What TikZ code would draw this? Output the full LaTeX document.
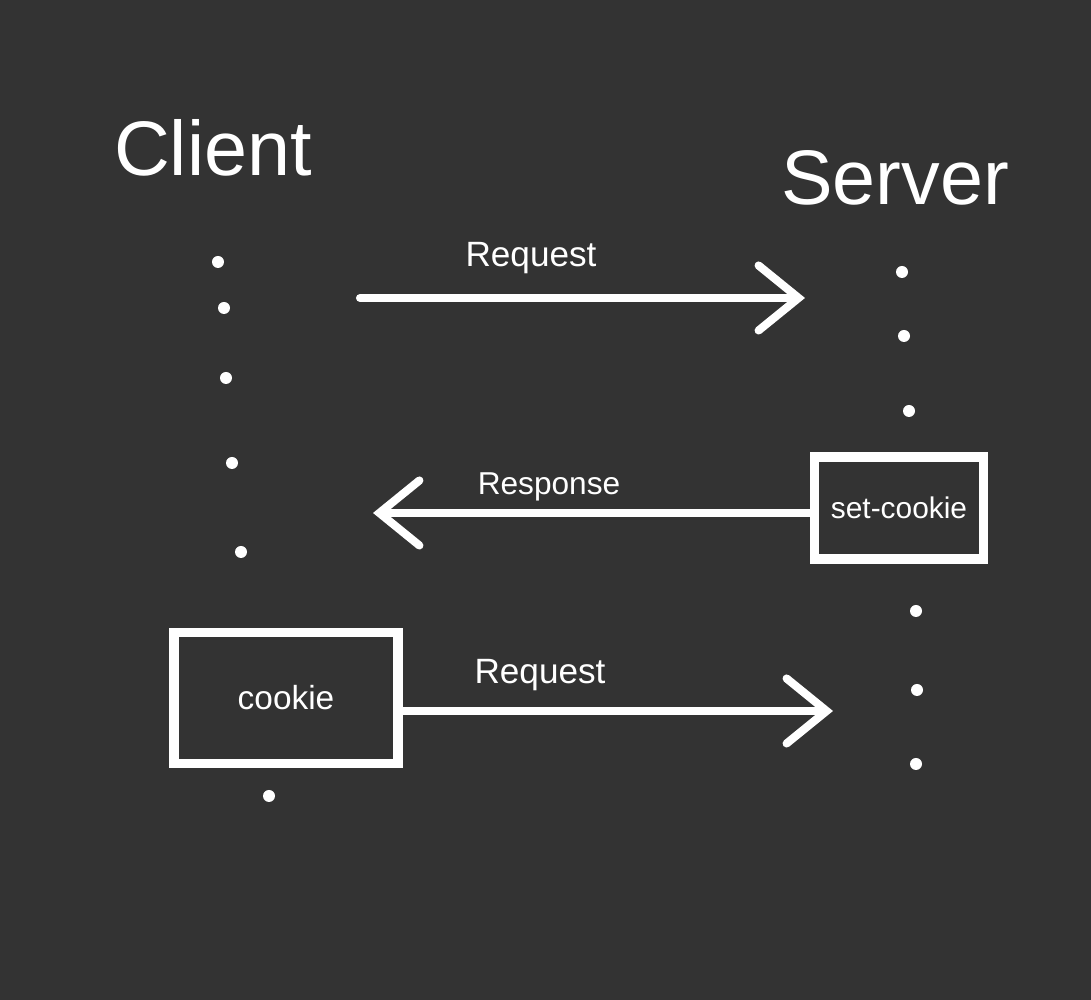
\documentclass[tikz,border=0pt]{standalone}
\usepackage{fontspec}
\setmainfont{Liberation Sans}
\usetikzlibrary{positioning,arrows.meta}
\definecolor{fundal}{HTML}{333333}
\tikzset{
  titlu/.style    = {text=white, inner sep=0pt, font=\fontsize{22}{26}\selectfont},
  eticheta/.style = {text=white, inner sep=2pt, font=\fontsize{10}{12}\selectfont},
  cutie/.style    = {draw=white, line width=2.6pt, text=white, align=center, inner sep=2pt,
                     font=\fontsize{9.5}{11}\selectfont},
  sageata/.style  = {white, line width=2.3pt, line cap=round,
                     -{Straight Barb[length=4mm, width=6.5mm, line cap=round]}},
  punct/.style    = {white}
}
\begin{document}
\begin{tikzpicture}
        \fill[fundal] (0,0) rectangle (10.91,10);
        \useasboundingbox (0,0) rectangle (10.91,10);

        \node[titlu] (client) at (2.13,8.52) {Client};
        \node[titlu] (server) at (8.95,8.22) {Server};

        \node[cutie, minimum width=1.69cm, minimum height=1.02cm,
              font=\fontsize{8.5}{10}\selectfont] (setc) at (8.99,4.92) {set-cookie};
        \node[cutie, minimum width=2.24cm, minimum height=1.31cm] (cookie) at (2.86,3.02) {cookie};

        \coordinate (req1s) at (3.60,7.02);
        \coordinate (req1e) at (8.05,7.02);
        \coordinate (resp) at (3.73,4.87);
        \coordinate (req2) at (8.33,2.89);

        \draw[sageata] (req1s) -- (req1e);
        \draw[sageata] (resp -| setc.west) -- (resp);
        \draw[sageata] (req2 -| cookie.east) -- (req2);

        \node[eticheta] (lreq1) at (5.31,7.42) {Request};
        \node[eticheta, font=\fontsize{9}{11}\selectfont] (lresp) at (5.49,5.13) {Response};
        \node[eticheta] (lreq2) at (5.40,3.25) {Request};

        % liniile de viata, punctate
        \foreach \x/\y in {2.18/7.38, 2.24/6.92, 2.26/6.22, 2.32/5.37, 2.41/4.48, 2.69/2.04,
                           9.02/7.28, 9.04/6.64, 9.09/5.89, 9.16/3.89, 9.17/3.10, 9.16/2.36}
            \fill[punct] (\x,\y) circle (0.06);
    \end{tikzpicture}
\end{document}
